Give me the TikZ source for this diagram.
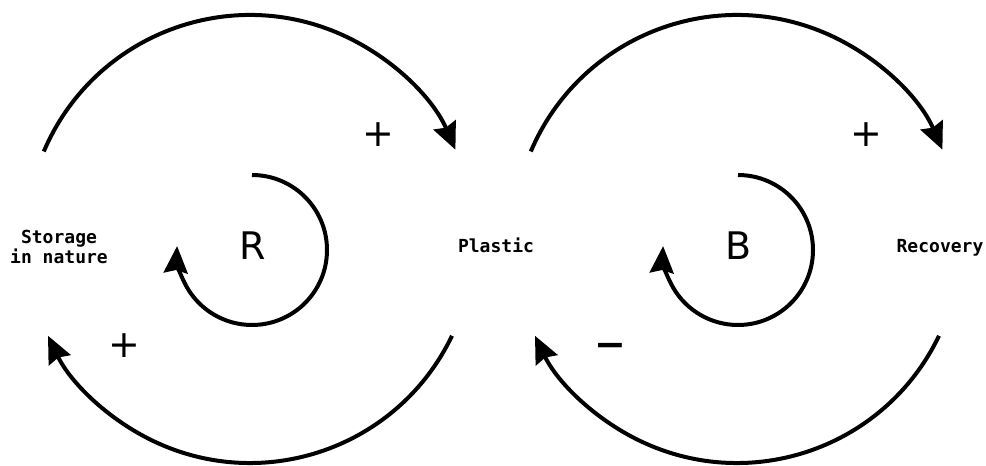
\documentclass[tikz,border=0pt]{standalone}
\usepackage{fontspec}
\newfontfamily\labelfont{DejaVu Sans Mono}
\newfontfamily\signfont{DejaVu Sans}
\usetikzlibrary{arrows.meta,calc}
\begin{document}
\begin{tikzpicture}[x=1pt,y=1pt,
  varlabel/.style={font=\labelfont\bfseries\fontsize{18}{20.5}\selectfont, align=center, inner sep=0pt},
  sign/.style={font=\signfont\fontsize{38}{40}\selectfont, inner sep=0pt},
  link/.style={line width=4pt, -{Stealth[length=27pt,width=24pt,inset=3pt]}},
]
\useasboundingbox (0,0) rectangle (986,466);
% variables
\node[varlabel] (storage) at (59,219) {Storage\\in nature};
\node[varlabel, anchor=base] (plastic) at (496,213) {Plastic};
\node[varlabel, anchor=base] (recovery) at (940,213) {Recovery};
% loop centres
\coordinate (cL) at (250,227);
\coordinate (cR) at (737,227);
\coordinate (lR) at (252,216);
\coordinate (lB) at (738,216);
% big links, left pair
\draw[link] ($(cL)+(157:224)$) arc[start angle=157, end angle=23.5, radius=224pt];
\draw[link] ($(cL)+(-25.6:224)$) arc[start angle=-25.6, end angle=-154.4, radius=224pt];
% big links, right pair
\draw[link] ($(cR)+(157:224)$) arc[start angle=157, end angle=23.5, radius=224pt];
\draw[link] ($(cR)+(-25.6:224)$) arc[start angle=-25.6, end angle=-154.4, radius=224pt];
% loop markers
\draw[link] ($(lR)+(90:75)$) arc[start angle=90, end angle=-183, radius=75pt];
\draw[link] ($(lB)+(90:75)$) arc[start angle=90, end angle=-183, radius=75pt];
\node[sign, anchor=base] (rsym) at (253,206) {R};
\node[sign, anchor=base] (bsym) at (739,206) {B};
% polarities
\node[sign] (p1) at (378,331) {+};
\node[sign] (p2) at (124,120) {+};
\node[sign] (p3) at (866,331) {+};
\node[sign] (m1) at (610,116) {\bfseries −};
\end{tikzpicture}
\end{document}
